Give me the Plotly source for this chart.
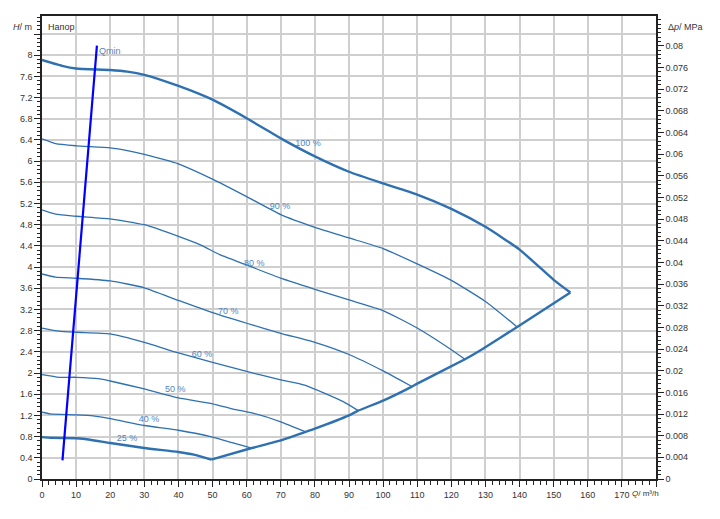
import plotly.graph_objects as go

# ---- data ----
q100 = [0, 5.9, 10, 20, 25, 30, 40, 50, 60, 70, 80, 90, 100, 110, 120, 130, 140, 150, 154.9]
h100 = [7.91, 7.80, 7.75, 7.72, 7.69, 7.63, 7.42, 7.16, 6.81, 6.43, 6.09, 5.80, 5.58, 5.37, 5.10, 4.76, 4.33, 3.76, 3.52]

q90 = [0, 4, 10, 20, 25, 30, 40, 50, 60, 70, 80, 90, 100, 110, 120, 130, 139.3]
h90 = [6.42, 6.33, 6.29, 6.25, 6.20, 6.13, 5.95, 5.66, 5.33, 4.99, 4.75, 4.55, 4.35, 4.06, 3.75, 3.35, 2.87]

q80 = [0, 4, 10, 20, 30, 40, 46.4, 52.3, 60, 70, 80, 90, 100, 110, 120, 124]
h80 = [5.08, 5.00, 4.96, 4.91, 4.80, 4.58, 4.42, 4.23, 4.04, 3.79, 3.58, 3.38, 3.18, 2.85, 2.44, 2.26]

q70 = [0, 4, 10, 20, 30, 40, 50, 60, 70, 80, 90, 100, 104.9, 108.3]
h70 = [3.87, 3.81, 3.79, 3.74, 3.61, 3.37, 3.14, 2.94, 2.75, 2.58, 2.35, 2.04, 1.87, 1.75]

q60 = [0, 5, 10, 20, 30, 40, 50, 60, 70, 77, 88.3, 92.7]
h60 = [2.85, 2.79, 2.77, 2.74, 2.58, 2.38, 2.20, 2.03, 1.87, 1.77, 1.46, 1.29]

q50 = [0, 5, 10, 17, 20, 30, 40, 50, 56, 62, 70, 77.3]
h50 = [1.97, 1.92, 1.92, 1.89, 1.85, 1.70, 1.53, 1.42, 1.32, 1.24, 1.08, 0.89]

q40 = [0, 2.4, 10, 15, 20, 30, 40, 50, 56, 61.5]
h40 = [1.26, 1.23, 1.21, 1.19, 1.14, 1.01, 0.92, 0.79, 0.68, 0.585]

q25 = [0, 2.4, 10, 12, 20, 30, 40, 44.5, 49.6]
h25 = [0.79, 0.78, 0.77, 0.76, 0.68, 0.585, 0.51, 0.46, 0.365]

q_env = [49.6, 61.5, 70, 77.3, 80, 90, 92.7, 100, 108.3, 110, 124, 128.8, 139.3, 154.9]
h_env = [0.365, 0.585, 0.73, 0.89, 0.95, 1.20, 1.29, 1.48, 1.74, 1.80, 2.26, 2.44, 2.87, 3.52]

qmin_q = [6.0, 16.1]
qmin_h = [0.35, 8.18]

curve_names = ["100 %", "90 %", "80 %", "70 %", "60 %", "50 %", "40 %", "25 %"]
# label anchor (Q, H) for each curve label
label_q = [78.0, 69.8, 62.2, 54.6, 46.9, 39.1, 31.4, 24.9]
label_h = [6.32, 5.14, 4.07, 3.15, 2.35, 1.68, 1.12, 0.76]

x_tickvals = [0, 10, 20, 30, 40, 50, 60, 70, 80, 90, 100, 110, 120, 130, 140, 150, 160, 170, 180]
x_ticktext = ["0", "10", "20", "30", "40", "50", "60", "70", "80", "90", "100", "110", "120",
              "130", "140", "150", "160", "170", ""]
y_tickvals = [0, 0.4, 0.8, 1.2, 1.6, 2.0, 2.4, 2.8, 3.2, 3.6, 4.0, 4.4, 4.8, 5.2, 5.6, 6.0,
              6.4, 6.8, 7.2, 7.6, 8.0, 8.4]
y_ticktext = ["0", "0.4", "0.8", "1.2", "1.6", "2", "2.4", "2.8", "3.2", "3.6", "4", "4.4",
              "4.8", "5.2", "5.6", "6", "6.4", "6.8", "7.2", "7.6", "8", ""]
dp_tickvals = [0, 0.004, 0.008, 0.012, 0.016, 0.02, 0.024, 0.028, 0.032, 0.036, 0.04, 0.044,
               0.048, 0.052, 0.056, 0.06, 0.064, 0.068, 0.072, 0.076, 0.08]
dp_ticktext = ["0", "0.004", "0.008", "0.012", "0.016", "0.02", "0.024", "0.028", "0.032",
               "0.036", "0.04", "0.044", "0.048", "0.052", "0.056", "0.06", "0.064", "0.068",
               "0.072", "0.076", "0.08"]

H_MAX = 8.74
DP_MAX = 0.0855

LINE = "rgb(46,112,176)"
LABEL = "rgb(80,134,192)"
FONT = "Liberation Sans, Arial, sans-serif"

fig = go.Figure()

curves = [(q100, h100, 2.4), (q90, h90, 1.3), (q80, h80, 1.3), (q70, h70, 1.3),
          (q60, h60, 1.3), (q50, h50, 1.3), (q40, h40, 1.3), (q25, h25, 2.4)]
for (qq, hh, w) in curves:
    fig.add_trace(go.Scatter(x=qq, y=hh, mode="lines",
                             line=dict(color=LINE, width=w, shape="spline", smoothing=0.5),
                             hoverinfo="skip", showlegend=False))

fig.add_trace(go.Scatter(x=q_env, y=h_env, mode="lines",
                         line=dict(color=LINE, width=2.4, shape="spline", smoothing=0.4),
                         hoverinfo="skip", showlegend=False))

fig.add_trace(go.Scatter(x=qmin_q, y=qmin_h, mode="lines",
                         line=dict(color="#0000ff", width=2.2),
                         hoverinfo="skip", showlegend=False))

# curve labels
fig.add_trace(go.Scatter(x=label_q, y=label_h, mode="text", text=curve_names,
                         textfont=dict(color=LABEL, size=9, family=FONT),
                         textposition="middle center", hoverinfo="skip", showlegend=False))
fig.add_trace(go.Scatter(x=[qmin_q[1] + 0.6], y=[qmin_h[1] - 0.12], mode="text", text=["Qmin"],
                         textfont=dict(color=LABEL, size=9, family=FONT),
                         textposition="middle right", hoverinfo="skip", showlegend=False))

# dummy trace for right axis
fig.add_trace(go.Scatter(x=[None], y=[None], yaxis="y2", showlegend=False, hoverinfo="skip"))

tickfont = dict(family=FONT, size=9, color="#333")

# page body has an 8px margin; figure sized to fit the 720x519 window exactly
fig.update_layout(
    width=704, height=503,
    margin=dict(l=34, r=56, t=8, b=32, autoexpand=False),
    paper_bgcolor="white", plot_bgcolor="white",
    showlegend=False,
    font=dict(family=FONT, size=9, color="#333"),
    xaxis=dict(range=[0, 180], tickmode="array", tickvals=x_tickvals, ticktext=x_ticktext,
               showgrid=True, gridcolor="#cfcfcf", gridwidth=1.5,
               showline=True, linecolor="#222", linewidth=1.5, mirror=True,
               ticks="outside", ticklen=6, tickcolor="#222", tickwidth=1,
               minor=dict(ticks="outside", ticklen=4, dtick=2, tickcolor="#222", showgrid=False),
               tickfont=tickfont, zeroline=False, fixedrange=True, automargin=False),
    yaxis=dict(range=[0, H_MAX], tickmode="array", tickvals=y_tickvals, ticktext=y_ticktext,
               showgrid=True, gridcolor="#cfcfcf", gridwidth=1.5,
               showline=True, linecolor="#222", linewidth=1.5,
               ticks="outside", ticklen=6, tickcolor="#222", tickwidth=1,
               minor=dict(ticks="outside", ticklen=3, dtick=0.08, tickcolor="#222", showgrid=False),
               tickfont=tickfont, zeroline=False, fixedrange=True, automargin=False),
    yaxis2=dict(range=[0, DP_MAX], overlaying="y", side="right", anchor="x",
                tickmode="array", tickvals=dp_tickvals, ticktext=dp_ticktext,
                showgrid=False, showline=True, linecolor="#222", linewidth=1.5,
                ticks="outside", ticklen=6, tickcolor="#222", tickwidth=1,
                minor=dict(ticks="outside", ticklen=3, dtick=0.0008, tickcolor="#222", showgrid=False),
                tickfont=tickfont, zeroline=False, fixedrange=True, automargin=False),
    annotations=[
        dict(text="<i>H</i>/ m", xref="paper", yref="paper", x=0, y=0.977, xanchor="right",
             yanchor="middle", xshift=-8, showarrow=False, font=dict(family=FONT, size=9, color="#333")),
        dict(text="Δ<i>p</i>/ MPa", xref="paper", yref="paper", x=1, y=0.977, xanchor="left",
             yanchor="middle", xshift=10, showarrow=False, font=dict(family=FONT, size=9, color="#333")),
        dict(text="Напор", xref="paper", yref="paper", x=0, y=0.976, xanchor="left",
             yanchor="middle", xshift=4, showarrow=False, font=dict(family=FONT, size=9, color="#333")),
        dict(text="<i>Q</i>/ m³/h", xref="paper", yref="paper", x=1, y=-0.032, xanchor="right",
             yanchor="middle", xshift=5, showarrow=False, font=dict(family=FONT, size=8, color="#333")),
    ],
)

fig.write_html("out.html")
